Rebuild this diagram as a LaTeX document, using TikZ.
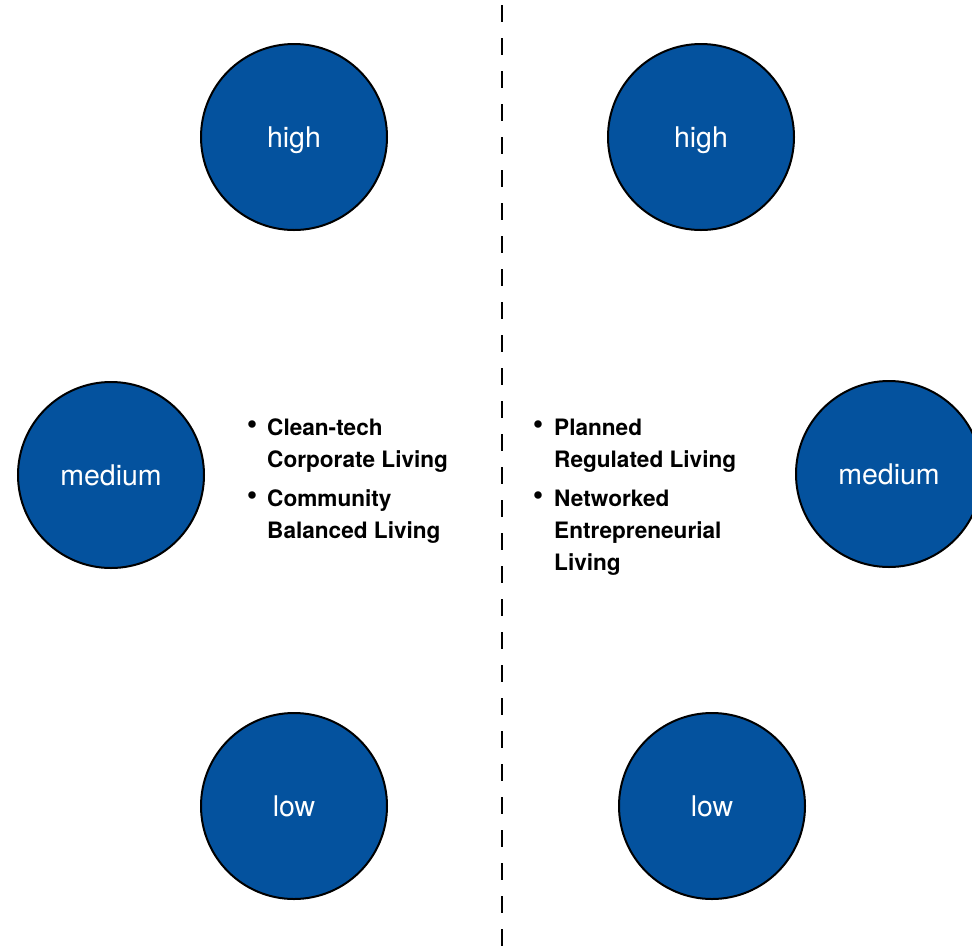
\documentclass[tikz,border=0pt]{standalone}
\usepackage{fontspec}
\setmainfont{TeX Gyre Heros}
\usepackage{tikz}
\usetikzlibrary{positioning}

\definecolor{levelblue}{RGB}{4,82,158}

\tikzset{
  level/.style={circle, draw=black, line width=2pt, fill=levelblue,
    minimum size=186pt, inner sep=0pt, text=white,
    font=\fontsize{28.5}{30}\selectfont},
  itemtext/.style={anchor=west, align=left, inner sep=0pt,
    font=\bfseries\fontsize{22.6}{32}\selectfont},
  itembullet/.style={anchor=center, inner sep=0pt,
    font=\bfseries\fontsize{30}{32}\selectfont}
}

\begin{document}
\begin{tikzpicture}[x=1pt, y=-1pt]
      \useasboundingbox (0,0) rectangle (972,946);

      \draw[line width=2.5pt, dash pattern=on 17pt off 16pt] (502,5) -- (502,946);

      \node[level] (highL) at (294,137) {\raisebox{-3pt}[\height][\depth]{high}};
      \node[level] (highR) at (701,137) {\raisebox{-3pt}[\height][\depth]{high}};
      \node[level] (medL) at (111,475) {medium};
      \node[level] (medR) at (889,474) {medium};
      \node[level] (lowL) at (294,806) {low};
      \node[level] (lowR) at (712,806) {low};

      % left list
      \node[itembullet] (bulL1) at (252,427) {\textbullet};
      \node[itemtext] (txtL1) at (267,446) {Clean-tech\\Corporate Living};
      \node[itembullet] (bulL2) at (252,498) {\textbullet};
      \node[itemtext] (txtL2) at (267,517) {Community\\Balanced Living};

      % right list
      \node[itembullet] (bulR1) at (538,427) {\textbullet};
      \node[itemtext] (txtR1) at (554,446) {Planned\\Regulated Living};
      \node[itembullet] (bulR2) at (538,498) {\textbullet};
      \node[itemtext] (txtR2) at (554,533) {Networked\\Entrepreneurial\\Living};
\end{tikzpicture}
\end{document}
